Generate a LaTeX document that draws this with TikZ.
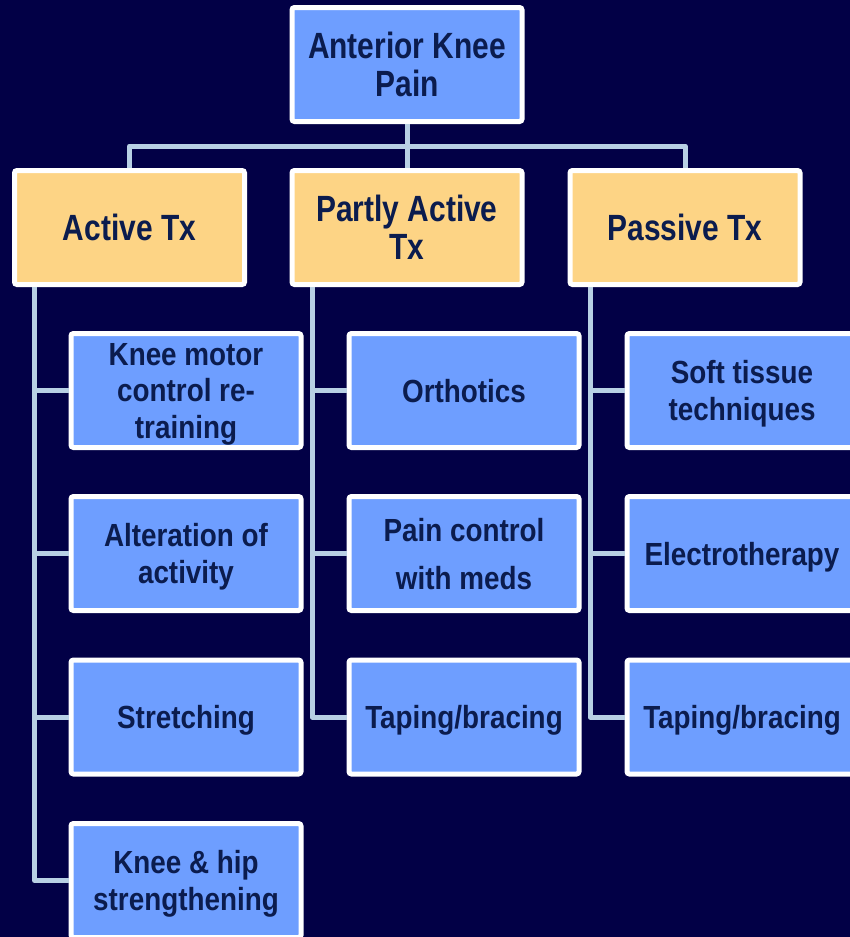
\documentclass[tikz,border=0pt]{standalone}
\usepackage{fontspec}
\setmainfont{Liberation Sans}[FakeStretch=0.82]
\newfontfamily\headfont{Liberation Sans}[FakeStretch=0.82]
\newfontfamily\leaffont{Liberation Sans}[FakeStretch=0.87]
\definecolor{bg}{HTML}{020046}
\definecolor{boxblue}{HTML}{6E9EFF}
\definecolor{boxorange}{HTML}{FDD485}
\definecolor{conn}{HTML}{B8D0E4}
\definecolor{txt}{HTML}{0B1C4E}
\tikzset{
  box/.style={draw=white, line width=5pt, rounded corners=2.5pt, minimum width=230pt, minimum height=114pt,
    inner sep=0pt, align=center, text=txt},
  headbox/.style={box, font=\headfont\bfseries\fontsize{36.5}{38}\selectfont},
  leafbox/.style={box, fill=boxblue, text depth=0pt, font=\leaffont\bfseries\fontsize{32}{36.5}\selectfont},
  topbox/.style={headbox, fill=boxblue},
  orangebox/.style={headbox, fill=boxorange},
  conn/.style={draw=conn, line width=5pt, line join=round}
}
\begin{document}
\begin{tikzpicture}[x=1pt,y=-1pt]
\fill[bg] (0,0) rectangle (850,937);
\useasboundingbox (0,0) rectangle (850,937);
\clip (0,0) rectangle (850,937);
% nodes
\node[topbox] (top) at (407,64.5) {Anterior Knee\\Pain};
\node[orangebox] (l1a) at (129.5,227.5) {Active Tx};
\node[orangebox] (l1b) at (407,227.5) {Partly Active\\Tx};
\node[orangebox] (l1c) at (685,227.5) {Passive Tx};
\node[leafbox] (a1) at (186,390.5) {Knee motor\\control re-\\training};
\node[leafbox] (a2) at (186,553.5) {Alteration of\\activity};
\node[leafbox] (a3) at (186,717) {Stretching};
\node[leafbox] (a4) at (186,880.5) {Knee \& hip\\strengthening};
\node[leafbox] (b1) at (464,390.5) {Orthotics};
\node[leafbox] (b2) at (464,553.5) {Pain control\\[11.5pt]with meds};
\node[leafbox] (b3) at (464,717) {Taping/bracing};
\node[leafbox] (c1) at (742,390.5) {Soft tissue\\techniques};
\node[leafbox] (c2) at (742,553.5) {Electrotherapy};
\node[leafbox] (c3) at (742,717) {Taping/bracing};
% connectors
\coordinate (bus) at (407,146);
\draw[conn] (top.south) -- (bus);
\draw[conn] (l1a.north) |- (bus) -| (l1c.north);
\draw[conn] (bus) -- (l1b.north);
\coordinate (ta) at ([xshift=22.5pt]l1a.south west);
\coordinate (tb) at ([xshift=22.5pt]l1b.south west);
\coordinate (tc) at ([xshift=22.5pt]l1c.south west);
\draw[conn] (ta) |- (a4.west);
\draw[conn] (a1.west) -- (a1.west -| ta);
\draw[conn] (a2.west) -- (a2.west -| ta);
\draw[conn] (a3.west) -- (a3.west -| ta);
\draw[conn] (tb) |- (b3.west);
\draw[conn] (b1.west) -- (b1.west -| tb);
\draw[conn] (b2.west) -- (b2.west -| tb);
\draw[conn] (tc) |- (c3.west);
\draw[conn] (c1.west) -- (c1.west -| tc);
\draw[conn] (c2.west) -- (c2.west -| tc);
\end{tikzpicture}
\end{document}
